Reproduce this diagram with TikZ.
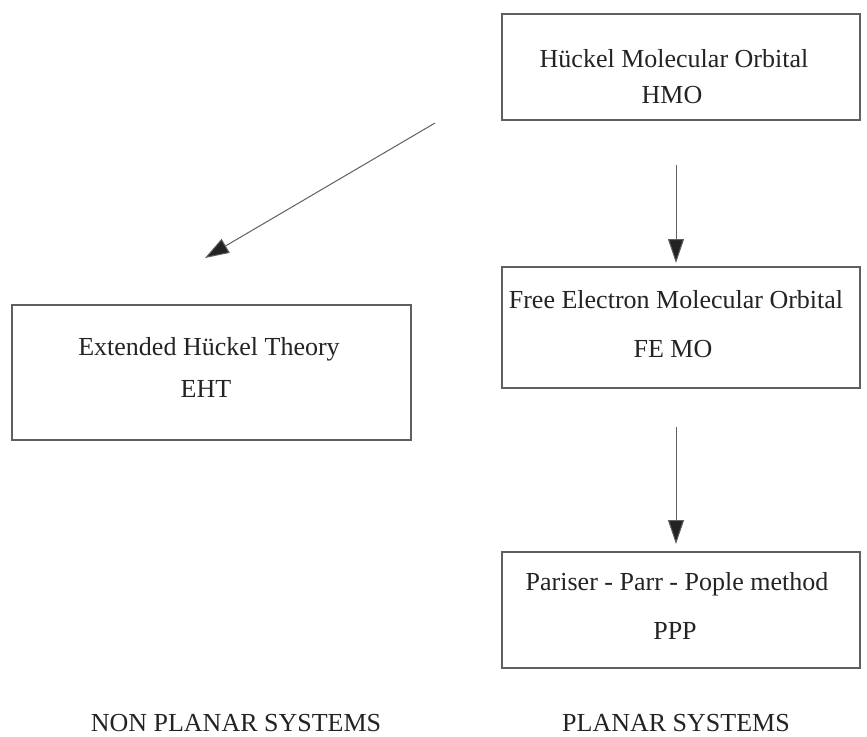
\documentclass[tikz,border=0pt]{standalone}
\usepackage{fontspec}
\setmainfont{Liberation Serif}
\usepackage{tikz}
\usetikzlibrary{arrows.meta}

\definecolor{linegray}{RGB}{95,95,95}
\definecolor{inkgray}{RGB}{35,35,35}

\begin{document}
\begin{tikzpicture}[x=0.5pt,y=-0.5pt,
	box/.style={draw=linegray, line width=0.6pt, rectangle, inner sep=0pt},
	txt/.style={anchor=base, inner sep=0pt, text=inkgray, font=\fontsize{13}{15}\selectfont},
	arr/.style={draw=linegray, line width=0.5pt,
		-{Triangle[length=12pt,width=8pt,fill=inkgray]}}]

	% ---- frame

	\useasboundingbox (0,0) rectangle (867,736);

	% ---- boxes

	\node[box, minimum width=179pt, minimum height=53pt] (hmo) at (681,67) {};
	\node[box, minimum width=199.5pt, minimum height=67.5pt] (eht) at (211.5,372.5) {};
	\node[box, minimum width=179pt, minimum height=60.5pt] (femo) at (681,327.5) {};
	\node[box, minimum width=179pt, minimum height=58pt] (ppp) at (681,610) {};

	% ---- box texts

	\node[txt] (hmo1) at (674,67) {Hückel Molecular Orbital};
	\node[txt] (hmo2) at (672,103) {HMO};

	\node[txt] (eht1) at (209,355) {Extended Hückel Theory};
	\node[txt] (eht2) at (206,397) {EHT};

	\node[txt] (femo1) at (676,308) {Free Electron Molecular Orbital};
	\node[txt] (femo2) at (673,357) {FE MO};

	\node[txt] (ppp1) at (677,590) {Pariser - Parr - Pople method};
	\node[txt] (ppp2) at (675,639) {PPP};

	% ---- arrow ends

	\coordinate (d1) at (435,123);
	\coordinate (d2) at (205,258);
	\coordinate (v1) at (676,165);
	\coordinate (v2) at (676,263);
	\coordinate (v3) at (676,427);
	\coordinate (v4) at (676,544);

	% ---- arrows

	\draw[arr] (d1) -- (d2);
	\draw[arr] (v1) -- (v2);
	\draw[arr] (v3) -- (v4);

	% ---- bottom labels

	\node[txt] (nonplanar) at (236,731) {NON PLANAR SYSTEMS};
	\node[txt] (planar) at (676,731) {PLANAR SYSTEMS};

\end{tikzpicture}
\end{document}
